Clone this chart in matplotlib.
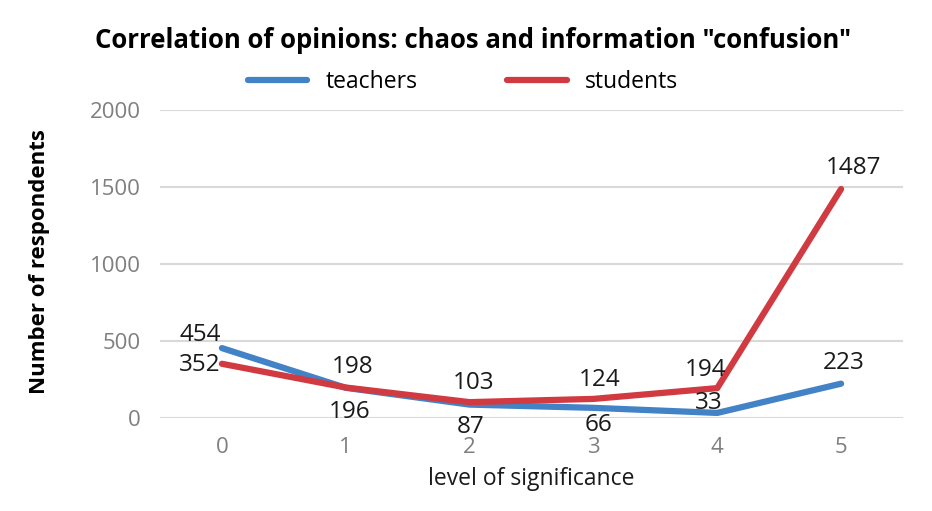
import matplotlib
matplotlib.use("Agg")
import matplotlib.pyplot as plt

plt.rcParams['font.family'] = ['Open Sans', 'DejaVu Sans']

levels = [0, 1, 2, 3, 4, 5]
teachers = [454, 196, 87, 66, 33, 223]
students = [352, 198, 103, 124, 194, 1487]
yticks = [0, 500, 1000, 1500, 2000]

BLUE = '#4282C6'
RED = '#D13A40'

# label offsets in pixels (dx, dy)
t_off = [(-22, 13), (4, -24), (1, -22), (5, -17), (-8, 10), (3, 21)]
s_off = [(-22, -1), (7, 21), (4, 19), (6, 19), (-12, 18), (12, 21)]

fig = plt.figure(figsize=(9.32, 5.11), dpi=100)
ax = fig.add_axes([160/932, 1 - 418/511, (903 - 160)/932, (418 - 110)/511])

ax.plot(levels, teachers, color=BLUE, lw=4.5, solid_capstyle='round', label='teachers', zorder=3)
ax.plot(levels, students, color=RED, lw=4.5, solid_capstyle='round', label='students', zorder=4)

for x, y, (dx, dy) in zip(levels, teachers, t_off):
    ax.annotate(str(y), (x, y), xytext=(dx, dy), textcoords='offset pixels',
                ha='center', va='center', fontsize=17.5, color='#1a1a1a', zorder=5)
for x, y, (dx, dy) in zip(levels, students, s_off):
    ax.annotate(str(y), (x, y), xytext=(dx, dy), textcoords='offset pixels',
                ha='center', va='center', fontsize=17.5, color='#1a1a1a', zorder=5)

ax.set_xlim(-0.5, 5.5)
ax.set_ylim(0, 2000)
ax.set_xticks(levels)
ax.set_yticks(yticks)
ax.tick_params(length=0, labelsize=16, labelcolor='#7f7f7f', pad=14)
ax.grid(axis='y', color='#d9d9d9', lw=1.5)
ax.set_axisbelow(True)
for s in ax.spines.values():
    s.set_visible(False)

ax.set_xlabel('level of significance', fontsize=16.5, color='#1a1a1a', labelpad=6)
fig.text(40/932, 1 - 262/511, 'Number of respondents', rotation=90, ha='center', va='center',
         fontsize=16, fontweight='bold', color='black')

fig.text(473/932, 1 - 40/511, 'Correlation of opinions: chaos and information "confusion"',
         ha='center', va='center', fontsize=18.5, fontweight='bold', color='black')

fig.legend(loc='center', bbox_to_anchor=(463/932, 1 - 82/511), ncol=2, frameon=False,
           fontsize=16.5, handlelength=2.6, handletextpad=0.8, columnspacing=3.9)

fig.savefig('out.png', dpi=100, facecolor='white')
